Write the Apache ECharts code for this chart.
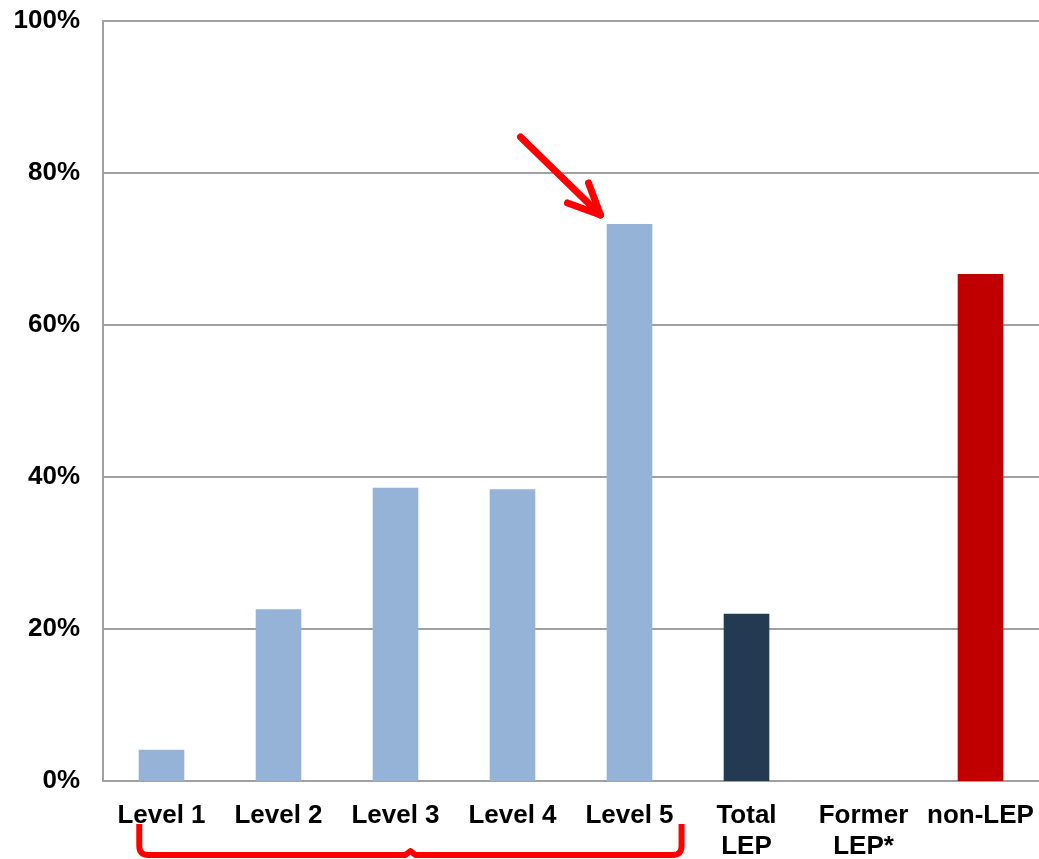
<!DOCTYPE html>
<html>
<head>
<meta charset="utf-8">
<script src="https://cdn.jsdelivr.net/npm/echarts@6/dist/echarts.min.js"></script>
<style>
  html, body { margin: 0; padding: 0; background: #fff; }
  #chart { width: 1039px; height: 859px; }
</style>
</head>
<body>
<div id="chart"></div>
<script>
// Categories along the x axis
const categories = ['Level 1', 'Level 2', 'Level 3', 'Level 4', 'Level 5', 'Total\nLEP', 'Former\nLEP*', 'non-LEP'];
// Share of students (%) for each group
const values = [4.1, 22.6, 38.6, 38.4, 73.3, 22.0, 0, 66.7];
// Y axis tick values (%)
const yTicks = [0, 20, 40, 60, 80, 100];

const LIGHT = '#95b3d7', NAVY = '#243a52', DARK_RED = '#c00000', MARK_RED = '#ff0000';
const barColors = [LIGHT, LIGHT, LIGHT, LIGHT, LIGHT, NAVY, NAVY, DARK_RED];

const FONT = '"Liberation Sans", Arial, sans-serif';

const chart = echarts.init(document.getElementById('chart'), null, { renderer: 'canvas' });

const option = {
  animation: false,
  backgroundColor: '#ffffff',
  grid: { left: 103, right: 0, top: 21, bottom: 78, containLabel: false, outerBoundsMode: 'none' },
  xAxis: {
    type: 'category',
    data: categories,
    axisLine: { show: true, lineStyle: { color: '#a0a0a0', width: 2 } },
    axisTick: { show: false },
    axisLabel: {
      interval: 0,
      margin: 19,
      fontFamily: FONT,
      fontSize: 26,
      fontWeight: 'bold',
      color: '#000',
      lineHeight: 31
    }
  },
  yAxis: {
    type: 'value',
    min: yTicks[0],
    max: yTicks[yTicks.length - 1],
    interval: yTicks[1] - yTicks[0],
    axisLine: { show: true, lineStyle: { color: '#a0a0a0', width: 2 } },
    axisTick: { show: false },
    splitLine: { show: true, lineStyle: { color: '#a0a0a0', width: 2 } },
    axisLabel: {
      margin: 23,
      padding: [4, 0, 0, 0],
      fontFamily: FONT,
      fontSize: 26,
      fontWeight: 'bold',
      color: '#000',
      formatter: v => v + '%'
    }
  },
  series: [{
    type: 'bar',
    barWidth: '39%',
    data: values.map((v, i) => ({ value: v, itemStyle: { color: barColors[i] } }))
  }]
};

chart.setOption(option);

// Points along a quadratic curve, used to round the brace corners
function quad(p0, c, p1, n) {
  const pts = [];
  for (let k = 1; k <= n; k++) {
    const t = k / n, u = 1 - t;
    pts.push([u * u * p0[0] + 2 * u * t * c[0] + t * t * p1[0],
              u * u * p0[1] + 2 * u * t * c[1] + t * t * p1[1]]);
  }
  return pts;
}

// Annotations: an arrow pointing at the Level 5 bar, and a brace under the five levels
function drawAnnotations() {
  const p = (i, v) => chart.convertToPixel({ xAxisIndex: 0, yAxisIndex: 0 }, [i, v]);
  const base0 = p(0, 0);
  const band = p(1, 0)[0] - base0[0];
  const axisY = base0[1];

  const top5 = p(4, values[4]);
  const tip = [top5[0] - 29, top5[1] - 9];
  const arrowStyle = { stroke: MARK_RED, lineWidth: 7, lineCap: 'round', lineJoin: 'round', fill: null };

  const left = base0[0] - 0.19 * band;
  const right = p(4, 0)[0] + 0.445 * band;
  const mid = (left + right) / 2;
  const yTop = axisY + 43;
  const yBot = axisY + 74;
  const r = 9;

  const brace = [[left, yTop], [left, yBot - r]]
    .concat(quad([left, yBot - r], [left, yBot], [left + r, yBot], 6))
    .concat([[mid - 5, yBot], [mid, yBot - 4], [mid + 5, yBot], [right - r, yBot]])
    .concat(quad([right - r, yBot], [right, yBot], [right, yBot - r], 6))
    .concat([[right, yTop]]);

  chart.setOption({
    graphic: [
      { type: 'polyline', shape: { points: [[tip[0] - 80, tip[1] - 78], tip] }, style: arrowStyle, z: 10 },
      { type: 'polyline', shape: { points: [[tip[0] - 12, tip[1] - 32], tip, [tip[0] - 33, tip[1] - 12]] }, style: arrowStyle, z: 10 },
      { type: 'polyline', shape: { points: brace }, style: { stroke: MARK_RED, lineWidth: 6, lineJoin: 'round', fill: null }, z: 10 }
    ]
  });
}
drawAnnotations();
</script>
</body>
</html>
